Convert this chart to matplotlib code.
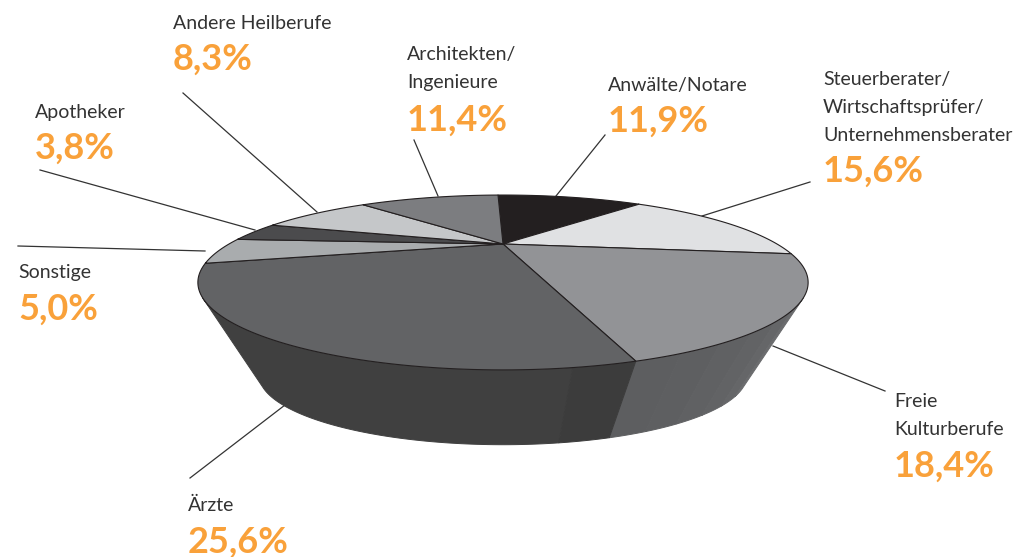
#!/usr/bin/env python3
"""Tilted 3D pie of professions, drawn with a small perspective projection."""

import numpy as np
import matplotlib
matplotlib.use("Agg")
import matplotlib.pyplot as plt
from matplotlib.patches import Polygon

categories = ["Anwälte/Notare", "Steuerberater/\nWirtschaftsprüfer/\nUnternehmensberater",
              "Freie\nKulturberufe", "Ärzte", "Sonstige", "Apotheker",
              "Andere Heilberufe", "Architekten/\nIngenieure"]
shares = [11.9, 15.6, 18.4, 25.6, 5.0, 3.8, 8.3, 11.4]

COLORS = ["#231f20", "#e0e1e3", "#929396", "#626365", "#a9acae", "#4b4b4d", "#c5c7c9", "#7c7d80"]
ORANGE = "#f9a13a"
TEXT = "#333333"

# projection of the pie, in pixels
CX, CY = 503, 244
K = -0.44
A = 70.5
C = 274
BOTTOM_Y = 344
BOTTOM_SCALE = 0.8
START_DEG = -1.5
WALL_RIGHT, WALL_LEFT = 125, 235

# label x, y of first text baseline, y of the percent baseline
LABEL_POS = [(608, 91, 132), (823, 85, 182), (894, 407, 477), (188, 511, 553),
             (18, 278, 320), (35, 118, 159), (173, 29, 70), (407, 60, 131)]
LINE_STEP = 28
LEADERS = [((605, 135), (556, 196)), ((810, 182), (702, 216)), ((885, 391), (773, 346)),
           ((190, 478), (285, 405)), ((18, 246), (205, 251)), ((40, 170), (255, 230)),
           ((183, 93), (317, 212)), ((414, 140), (438, 196))]


def project(deg, scale=1.0, y0=CY):
    t = np.radians(np.asarray(deg, dtype=float))
    u, v = np.sin(t), -np.cos(t)
    w = 1 + K * v
    return np.column_stack([CX + scale * C * u / w, y0 + scale * A * v / w])


def arc(a, b, n=80):
    return np.linspace(a, b, n)


def wall(ax, a, b, color):
    deg = arc(a, b)
    pts = np.vstack([project(deg), project(deg[::-1], BOTTOM_SCALE, BOTTOM_Y)])
    ax.add_patch(Polygon(pts, closed=True, fc=color, ec=color, lw=0.7, zorder=2))


fig = plt.figure(figsize=(10.26, 5.57), dpi=100)
ax = fig.add_axes([0, 0, 1, 1])
ax.set_xlim(0, 1026)
ax.set_ylim(557, 0)
ax.axis("off")

edges = START_DEG + np.cumsum([0] + shares) * 3.6

# side walls, Freie Kulturberufe gets lighter towards the right
split = edges[3]
steps = np.linspace(split, WALL_RIGHT, 7)
shades = ["#5d5e60", "#5e5f61", "#606163", "#626365", "#656668", "#6a6b6d"]
for s0, s1, col in zip(steps[:-1], steps[1:], shades):
    wall(ax, s1, s0, col)
wall(ax, split + 8, WALL_LEFT, "#404040")
wall(ax, split, split + 8, "#3c3c3c")

# top face
for a, b, col in zip(edges[:-1], edges[1:], COLORS):
    pts = np.vstack([[CX, CY], project(arc(a, b))])
    ax.add_patch(Polygon(pts, closed=True, fc=col, ec="#231f20", lw=0.8, joinstyle="round", zorder=3))

for (p0, p1) in LEADERS:
    ax.plot([p0[0], p1[0]], [p0[1], p1[1]], color="#333333", lw=0.9, zorder=1)

for cat, share, (x, y, y_pct) in zip(categories, shares, LABEL_POS):
    for i, line in enumerate(cat.split("\n")):
        ax.text(x, y + i * LINE_STEP, line, fontsize=14, family="Lato", color=TEXT, va="baseline", ha="left")
    pct = f"{share:.1f}%".replace(".", ",")
    ax.text(x, y_pct, pct, fontsize=26, family="Lato", fontweight="bold", color=ORANGE, va="baseline", ha="left")

fig.savefig("out.png", dpi=100)
